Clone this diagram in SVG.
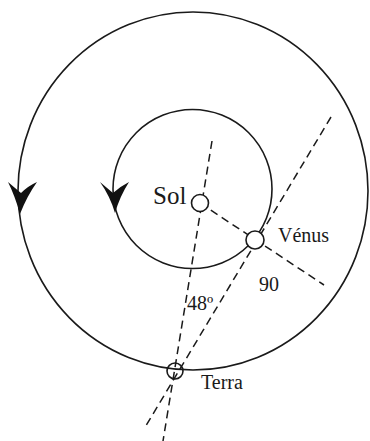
<svg xmlns="http://www.w3.org/2000/svg" width="370" height="441" viewBox="0 0 370 441">
<style>
.orbit{fill:none;stroke:#1a1a1a;stroke-width:1.6}
.dash{fill:none;stroke:#1a1a1a;stroke-width:1.5;stroke-dasharray:8 5}
.body{fill:#fff;stroke:#1a1a1a;stroke-width:1.6}
.arrow{fill:#111;stroke:none}
text{font-family:"Liberation Serif","Times New Roman",serif;fill:#1a1a1a}
</style>
<rect width="370" height="441" fill="#fff"/>
<g id="orbits">
<ellipse class="orbit" cx="193" cy="191" rx="175" ry="179"/>
<circle class="orbit" cx="192.5" cy="189" r="79.5"/>
<path class="arrow" d="M20,214 Q15,196 8,182 Q15,188 21,193 Q28,186 37,182 Q27,196 20,214 Z"/>
<path class="arrow" d="M115,213 Q110,196 100,182 Q107,188 113,193 Q121,186 129,182 Q120,196 115,213 Z"/>
</g>
<g id="connectors">
<line class="dash" x1="212" y1="141" x2="163" y2="441"/>
<line class="dash" x1="200" y1="203" x2="324" y2="285"/>
<line class="dash" x1="331" y1="117" x2="144" y2="429"/>
</g>
<g id="sol">
<circle class="body" cx="200" cy="203" r="8.5"/>
<text x="153" y="204" font-size="25">Sol</text>
</g>
<g id="venus">
<circle class="body" cx="255" cy="240" r="9"/>
<text x="278" y="242" font-size="20">Vénus</text>
</g>
<g id="terra">
<circle class="orbit" cx="175" cy="371" r="8"/>
<text x="201" y="389" font-size="20">Terra</text>
</g>
<g id="labels">
<text x="187" y="310" font-size="20">48º</text>
<text x="259" y="291" font-size="20">90</text>
</g>
</svg>
